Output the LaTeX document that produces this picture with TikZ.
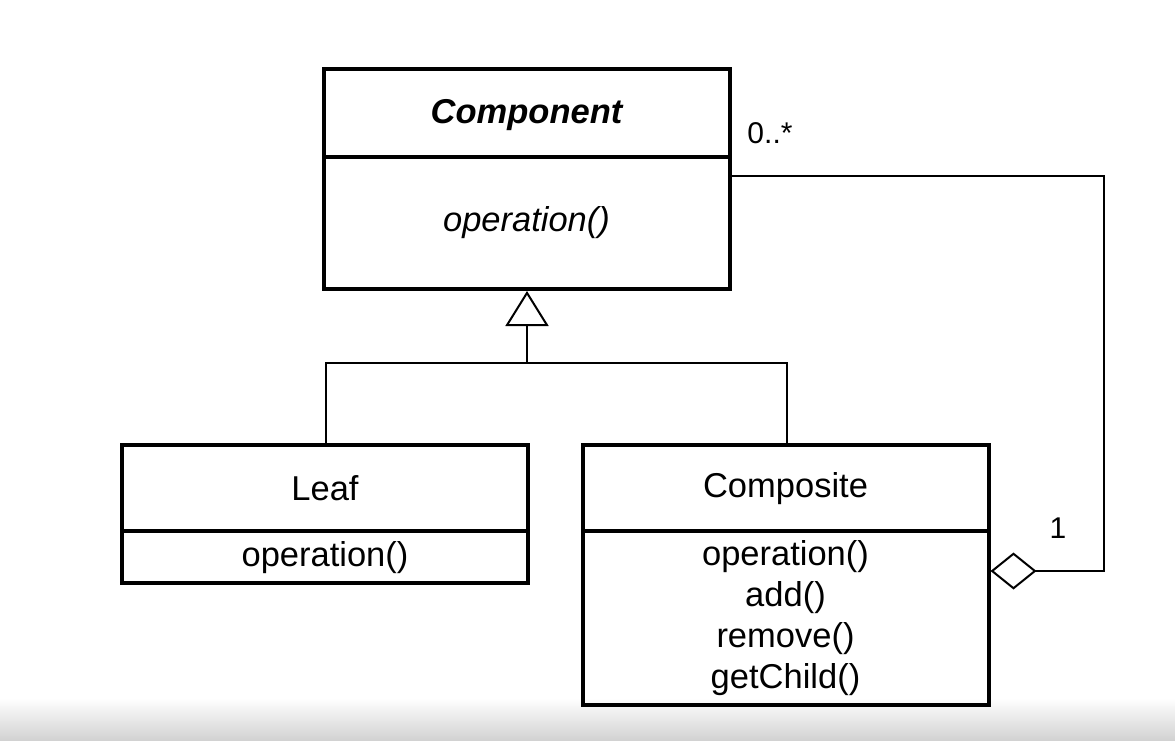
\documentclass[tikz,border=0pt]{standalone}
\usepackage{fontspec}
\setmainfont{Liberation Sans}
\usetikzlibrary{arrows.meta,calc}
\begin{document}
\begin{tikzpicture}[x=1pt,y=-1pt,
  comp/.style={draw=black,line width=4pt,inner sep=0pt,minimum width=406pt,anchor=north},
  txt/.style={font=\fontsize{34.5}{41}\selectfont,align=center},
  conn/.style={line width=2pt,black},
  lbl/.style={font=\fontsize{30}{36}\selectfont,inner sep=0pt}]
\useasboundingbox (0,0) rectangle (1175,741);
\shade[top color=white,bottom color=black!18] (0,698) rectangle (1175,741);
% Component
\node[comp,minimum height=88pt] (cH) at (526.5,67) {};
\node[comp,minimum height=132pt] (cB) at (526.5,155) {};
\node[txt] (cHt) at ([yshift=-2pt]cH.center) {\bfseries\itshape Component};
\node[txt] (cBt) at (cB.center) {\itshape operation()};
% Leaf
\node[comp,minimum height=86pt] (lH) at (325,443) {};
\node[comp,minimum height=52pt] (lB) at (325,529) {};
\node[txt] (lHt) at (lH.center) {Leaf};
\node[txt] (lBt) at ([yshift=-1pt]lB.center) {operation()};
% Composite
\node[comp,minimum height=86pt] (pH) at (785.5,443) {};
\node[comp,minimum height=174pt] (pB) at (785.5,529) {};
\node[txt] (pHt) at ([yshift=-1pt]pH.center) {Composite};
\node[txt] (pBt) at (pB.center) {operation()\\add()\\remove()\\getChild()};
% generalization
\coordinate (j) at (527,363);
\draw[conn,-{Triangle[open,length=35pt,width=43pt]}] (j) -- (cB.south -| j);
\draw[conn] (lH.north -| 326,0) |- (j) -| (pH.north -| 787,0);
% aggregation
\coordinate (aggA) at ($(pB.north east)+(0,42)$);
\coordinate (cr) at (1104,571);
\coordinate (cT) at ($(cB.north east)+(0,21)$);
\draw[conn,{Diamond[open,length=46pt,width=37pt]}-] (aggA) -- (cr) |- (cT);
\node[lbl] (m1) at (1058,528) {1};
\node[lbl] (m2) at (770,133) {0..*};
\end{tikzpicture}
\end{document}
